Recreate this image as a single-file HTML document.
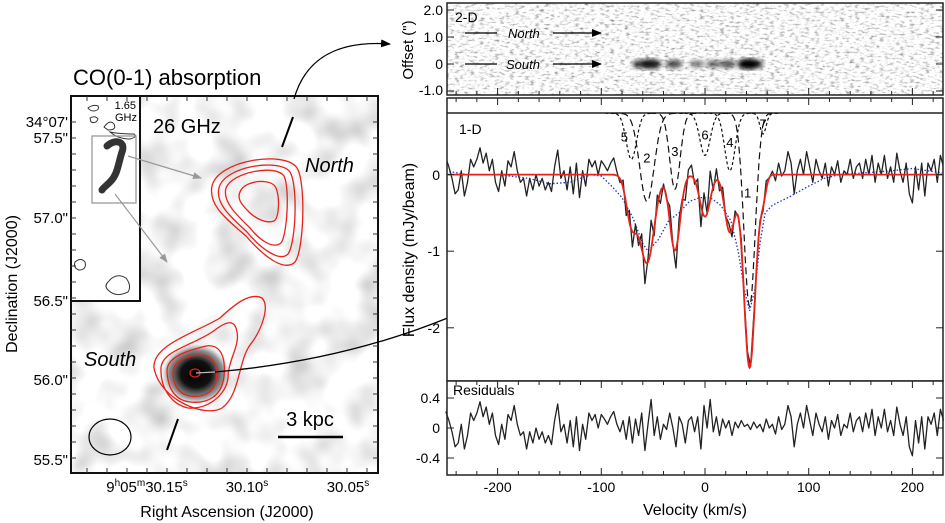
<!DOCTYPE html>
<html><head><meta charset="utf-8"><style>
html,body{margin:0;padding:0;background:#fff;}
svg{display:block;font-family:"Liberation Sans",sans-serif;}
</style></head><body>
<svg id="fig" width="945" height="523" viewBox="0 0 945 523">
<defs>
 <filter id="noise2d" x="0" y="0" width="1" height="1">
  <feTurbulence type="fractalNoise" baseFrequency="0.2 0.5" numOctaves="2" seed="3"/>
  <feColorMatrix type="matrix" values="2.0 0 0 0 -0.02  2.0 0 0 0 -0.02  2.0 0 0 0 -0.02  0 0 0 0 1"/>
 </filter>
 <filter id="noisemap" x="0" y="0" width="1" height="1">
  <feTurbulence type="fractalNoise" baseFrequency="0.028" numOctaves="2" seed="7"/>
  <feColorMatrix type="matrix" values="1.0 0 0 0 0.42  1.0 0 0 0 0.42  1.0 0 0 0 0.42  0 0 0 0 1"/>
 </filter>
 <filter id="blur3"><feGaussianBlur stdDeviation="2.5"/></filter>
 <radialGradient id="core"><stop offset="0" stop-color="#000"/><stop offset="0.45" stop-color="#111"/><stop offset="0.8" stop-color="#666" stop-opacity="0.7"/><stop offset="1" stop-color="#999" stop-opacity="0"/></radialGradient>
 <marker id="ah" markerWidth="10" markerHeight="8" refX="9" refY="4" orient="auto" markerUnits="userSpaceOnUse"><path d="M0,0 L10,4 L0,8 Z" fill="#000"/></marker>
 <marker id="ahg" markerWidth="9" markerHeight="7" refX="8" refY="3.5" orient="auto" markerUnits="userSpaceOnUse"><path d="M0,0 L9,3.5 L0,7 Z" fill="#999"/></marker>
 <clipPath id="clipMap"><rect x="71" y="96" width="307" height="377"/></clipPath>
 <clipPath id="clip2d"><rect x="447" y="3" width="496" height="92"/></clipPath>
 <clipPath id="clip1d"><rect x="447" y="113" width="496" height="268"/></clipPath>
</defs>

<!-- ===== LEFT MAP ===== -->
<g>
 <text x="73" y="85" font-size="22">CO(0-1) absorption</text>
 <g clip-path="url(#clipMap)">
  <rect x="71" y="96" width="307" height="377" fill="#ddd" filter="url(#noisemap)"/>
  <ellipse cx="196" cy="374" rx="34" ry="30" fill="url(#core)"/>
  <g fill="none" stroke="#e8221a" stroke-width="1.3">
   <path d="M212,186 C218,160 285,150 297,168 C306,182 304,250 295,262 C285,272 265,258 246,236 C228,220 208,206 212,186 Z"/>
   <path d="M219,188 C224,166 280,158 290,172 C298,185 296,243 288,254 C280,262 262,250 247,232 C232,218 215,204 219,188 Z"/>
   <path d="M226,188 C232,172 276,164 284,176 C290,188 287,236 281,243 C272,250 258,238 250,228 C238,216 222,202 226,188 Z"/>
   <path d="M241,190 C247,180 272,178 276,188 C280,198 279,218 274,221 C266,224 255,218 249,212 C241,204 236,198 241,190 Z"/>
  </g>
  <g fill="none" stroke="#e8221a" stroke-width="1.3">
   <path d="M154,368 C152,345 195,333 220,318 C235,304 250,292 262,298 C270,306 262,330 250,345 C238,362 240,395 222,408 C205,418 160,400 154,368 Z"/>
   <path d="M161,368 C162,350 195,345 215,330 C228,320 235,320 237,332 C240,346 228,360 228,378 C226,396 206,410 188,408 C170,404 160,386 161,368 Z"/>
   <path d="M167,372 C166,356 190,350 206,346 C220,344 226,356 224,376 C222,396 208,404 190,402 C174,400 168,388 167,372 Z"/>
   <path d="M173,373 C173,360 188,355 202,355 C214,356 218,366 216,380 C214,392 204,398 190,396 C178,394 173,384 173,373 Z"/>
   <ellipse cx="195" cy="373" rx="5" ry="4"/>
  </g>
  <rect x="71" y="96" width="69" height="205" fill="#fff" stroke="#111" stroke-width="2"/>
  <text x="136" y="109" font-size="11" text-anchor="end">1.65</text>
  <text x="137" y="121" font-size="11" text-anchor="end">GHz</text>
  <g fill="none" stroke="#333" stroke-width="1">
   <path d="M88,108 q5,-4 10,-2 q2,4 -4,5 q-4,0 -6,-3z"/><path d="M90,118 q5,-3 8,1 q-2,5 -7,3z"/>
   <path d="M104,127 q6,-8 10,-3 q3,6 -6,6z"/><path d="M110,132 q10,2 24,2 q4,3 -4,5 q-12,0 -20,-7z"/>
   <path d="M75,262 q6,-5 10,0 q2,8 -6,8 q-6,-2 -4,-8z"/><path d="M108,282 q8,-10 18,-4 q6,8 2,14 q-12,6 -20,-2 q-4,-4 0,-8z"/>
  </g>
  <path d="M107,146 C116,138 126,142 122,152 C118,164 118,174 110,182 C106,186 103,188 102,190" fill="none" stroke="#333" stroke-width="7" stroke-linecap="round"/>
  <rect x="92" y="136" width="44" height="67" fill="none" stroke="#999" stroke-width="1.3"/>
  <line x1="128" y1="156" x2="201" y2="178" stroke="#999" stroke-width="1.2" marker-end="url(#ahg)"/>
  <line x1="115" y1="194" x2="167" y2="262" stroke="#999" stroke-width="1.2" marker-end="url(#ahg)"/>
  <text x="153" y="133" font-size="20">26 GHz</text>
  <text x="305" y="172" font-size="20" font-style="italic">North</text>
  <text x="84" y="366" font-size="20" font-style="italic">South</text>
  <line x1="293" y1="117" x2="282" y2="147" stroke="#000" stroke-width="2"/>
  <line x1="178" y1="419" x2="167" y2="450" stroke="#000" stroke-width="2"/>
  <ellipse cx="110" cy="437" rx="21" ry="18" fill="none" stroke="#000" stroke-width="1.2"/>
  <text x="310" y="426" font-size="20" text-anchor="middle">3 kpc</text>
  <line x1="278" y1="437" x2="343" y2="437" stroke="#000" stroke-width="2.5"/>
 </g>
 <rect x="71" y="96" width="307" height="377" fill="none" stroke="#111" stroke-width="2"/>
 <g id="mapTicks" stroke="#333" stroke-width="1"></g>
 <g font-size="15" text-anchor="end">
  <text x="68" y="127">34°07'</text>
  <text x="68" y="143">57.5"</text>
  <text x="68" y="223">57.0"</text>
  <text x="68" y="306">56.5"</text>
  <text x="68" y="385">56.0"</text>
  <text x="68" y="465">55.5"</text>
 </g>
 <g font-size="15" text-anchor="middle">
  <text x="147" y="492">9<tspan font-size="10" dy="-6">h</tspan><tspan dy="6">05</tspan><tspan font-size="10" dy="-6">m</tspan><tspan dy="6">30.15</tspan><tspan font-size="10" dy="-6">s</tspan></text>
  <text x="247" y="492">30.10<tspan font-size="10" dy="-6">s</tspan></text>
  <text x="348" y="492">30.05<tspan font-size="10" dy="-6">s</tspan></text>
 </g>
 <text x="227" y="517" font-size="16" text-anchor="middle">Right Ascension (J2000)</text>
 <text transform="translate(17,284) rotate(-90)" font-size="16" text-anchor="middle">Declination (J2000)</text>
</g>

<path d="M294,99 C305,60 335,40 390,44" fill="none" stroke="#000" stroke-width="1.3" marker-end="url(#ah)"/>
<line x1="196" y1="373" x2="215" y2="372" stroke="#bbb" stroke-width="1.3"/>
<path d="M215,372 C330,362 470,330 609,227" fill="none" stroke="#000" stroke-width="1.3" marker-end="url(#ah)"/>

<!-- ===== RIGHT PANELS ===== -->
<g>
 <g clip-path="url(#clip2d)">
  <rect x="447" y="3" width="496" height="92" fill="#eee" filter="url(#noise2d)"/>
  <g id="blobs" filter="url(#blur3)"></g>
 </g>
 <rect x="447" y="3" width="496" height="92" fill="none" stroke="#222" stroke-width="1.5"/>
 <text x="455" y="22" font-size="14">2-D</text>
 <line x1="465" y1="33" x2="497" y2="33" stroke="#000" stroke-width="1.3"/>
 <text x="508" y="38" font-size="13" font-style="italic">North</text>
 <line x1="553" y1="33" x2="601" y2="33" stroke="#000" stroke-width="1.3" marker-end="url(#ah)"/>
 <line x1="465" y1="64" x2="497" y2="64" stroke="#000" stroke-width="1.3"/>
 <text x="506" y="69" font-size="13" font-style="italic">South</text>
 <line x1="553" y1="64" x2="601" y2="64" stroke="#000" stroke-width="1.3" marker-end="url(#ah)"/>
 <g font-size="14" text-anchor="end">
  <text x="443" y="15">2.0</text><text x="443" y="42">1.0</text><text x="443" y="69">0</text><text x="443" y="95">-1.0</text>
 </g>
 <text transform="translate(413,50) rotate(-90)" font-size="15" text-anchor="middle">Offset (")</text>
</g>

<g>
 <rect x="447" y="98" width="496" height="283" fill="#fff" stroke="#222" stroke-width="1.5"/>
 <line x1="447" y1="113" x2="943" y2="113" stroke="#222" stroke-width="1.5"/>
 <g clip-path="url(#clip1d)">
  <g id="comps"></g>
  <path id="blueLine" fill="none" stroke="#2233cc" stroke-width="1.3" stroke-dasharray="1.5,2"/>
  <path id="dataLine" fill="none" stroke="#222" stroke-width="1.3" stroke-linejoin="round"/>
  <path id="modelLine" fill="none" stroke="#e8221a" stroke-width="1.8"/>
 </g>
 <g id="compLabels" font-size="13" text-anchor="middle"></g>
 <text x="459" y="134" font-size="14">1-D</text>
 <g font-size="14" text-anchor="end">
  <text x="440" y="180">0</text><text x="440" y="256">-1</text><text x="440" y="333">-2</text>
 </g>
 <text transform="translate(414,250) rotate(-90)" font-size="16" text-anchor="middle">Flux density (mJy/beam)</text>
</g>

<g>
 <rect x="447" y="381" width="496" height="94" fill="#fff" stroke="#222" stroke-width="1.5"/>
 <path id="resLine" fill="none" stroke="#222" stroke-width="1.3" stroke-linejoin="round"/>
 <text x="453" y="395" font-size="14">Residuals</text>
 <g font-size="14" text-anchor="end">
  <text x="440" y="403">0.4</text><text x="440" y="433">0</text><text x="440" y="463">-0.4</text>
 </g>
 <g id="xLabels" font-size="14" text-anchor="middle"></g>
 <text x="695" y="515" font-size="16" text-anchor="middle">Velocity (km/s)</text>
</g>
<g id="rTicks" stroke="#222" stroke-width="1"></g>
</svg>
<script>
// ---- data ----
const resStart = -250, resStep = 3;
const residuals = [
0.22,0.1,-0.05,-0.25,-0.2,0.05,-0.28,-0.1,0.2,0.1,
0.2,0.35,0.15,0.28,0.05,0.2,-0.1,-0.22,0.05,-0.15,
0.18,0.1,0.3,0.05,-0.1,-0.05,-0.28,-0.05,-0.2,0.0,
-0.15,-0.05,-0.2,-0.1,-0.22,0.1,0.32,-0.05,0.05,-0.2,
0.1,-0.25,0.15,-0.3,0.05,-0.15,0.2,0.1,0.18,0.0,
0.18,0.12,0.05,0.15,0.22,0.05,-0.05,0.1,-0.15,0.15,
-0.2,0.12,-0.1,0.2,-0.3,0.05,0.38,-0.1,0.15,-0.15,
0.05,-0.02,0.2,0.0,-0.25,0.15,0.05,-0.2,0.1,0.15,
-0.05,0.15,-0.28,0.3,0.0,0.38,-0.05,0.15,-0.1,0.12,
0.0,0.1,-0.1,0.08,0.0,0.1,0.02,0.05,-0.02,0.08,
0.0,0.05,-0.05,0.12,0.0,0.05,-0.08,0.15,-0.02,0.05,
0.3,0.15,-0.25,0.05,0.2,0.0,0.3,0.1,-0.1,0.2,
0.05,-0.05,0.15,-0.15,0.1,0.0,0.18,-0.1,0.05,0.0,
0.2,-0.05,0.1,0.15,-0.05,0.2,0.0,0.25,-0.1,0.15,
0.0,0.25,-0.05,0.1,-0.1,0.28,0.05,-0.1,0.15,-0.25,
-0.37,0.1,-0.2,0.15,-0.28,0.15,0.05,0.2,-0.1,0.25,
0.1];
const compNames = ["1","2","3","4","5","6","7"];
const compCenters = [43, -56, -29, 24, -71, 0, 56];
const compDepths = [2.52, 1.15, 0.99, 0.75, 0.6, 0.55, 0.27];
const compSigmas = [5.5, 7, 5, 5, 5, 5, 3];
const compLongDash = [true, true, true, false, false, false, false];
const blueV = [-250,-230,-200,-170,-150,-130,-110,-100,-90,-80,-70,-60,-55,-45,-35,-25,-15,-5,5,15,25,32,38,43,48,53,58,65,80,100,115,130,150,180,200,230];
const blueF = [0.05,0,0,-0.05,-0.12,-0.1,0,-0.02,-0.15,-0.3,-0.55,-0.9,-1.0,-0.85,-0.6,-0.5,-0.35,-0.3,-0.3,-0.4,-0.6,-1.0,-1.5,-1.78,-1.5,-0.9,-0.5,-0.4,-0.3,-0.15,-0.05,0,0.02,0.05,0.08,0.02];
const blobV = [-62, -52, -30, -8, 8, 22, 42, 48];
const blobStrength = [0.6, 0.85, 0.55, 0.35, 0.4, 0.5, 1.0, 0.6];
const xTickLabels = [-200, -100, 0, 100, 200];

// ---- axes ----
const xV = v => 705 + 1.037 * v;
const yF = f => 174.6 - 76.6 * f;
const yR = r => 428 - 75 * r;
const yO = o => 64 - 27 * o;
const compBase = 0.8;

const NS = "http://www.w3.org/2000/svg";
function mk(tag, parent){ const e = document.createElementNS(NS, tag); parent.appendChild(e); return e; }

function model(v){
  let s = 0;
  for (let i = 0; i < compCenters.length; i++) s -= compDepths[i] * Math.exp(-0.5 * ((v - compCenters[i]) / compSigmas[i]) ** 2);
  return s;
}

let dD = "", dR = "";
residuals.forEach((r, i) => {
  const v = resStart + i * resStep;
  const x = xV(v);
  dD += (i ? "L" : "M") + x.toFixed(1) + "," + yF(model(v) + r).toFixed(1);
  dR += (i ? "L" : "M") + x.toFixed(1) + "," + yR(r).toFixed(1);
});
document.getElementById("dataLine").setAttribute("d", dD);
document.getElementById("resLine").setAttribute("d", dR);

let dM = "";
for (let v = -255; v <= 235; v += 0.5) dM += (v === -255 ? "M" : "L") + xV(v).toFixed(1) + "," + yF(model(v)).toFixed(1);
document.getElementById("modelLine").setAttribute("d", dM);

document.getElementById("blueLine").setAttribute("d", blueV.map((v, i) => (i ? "L" : "M") + xV(v).toFixed(1) + "," + yF(blueF[i]).toFixed(1)).join(""));

const cg = document.getElementById("comps"), cl = document.getElementById("compLabels");
compCenters.forEach((c, i) => {
  let d = "";
  for (let v = c - 5 * compSigmas[i]; v <= c + 5 * compSigmas[i]; v += 0.5)
    d += (d ? "L" : "M") + xV(v).toFixed(1) + "," + yF(compBase - compDepths[i] * Math.exp(-0.5 * ((v - c) / compSigmas[i]) ** 2)).toFixed(1);
  const p = mk("path", cg);
  p.setAttribute("d", d);
  p.setAttribute("fill", "none");
  p.setAttribute("stroke", "#111");
  p.setAttribute("stroke-width", "1.2");
  p.setAttribute("stroke-dasharray", compLongDash[i] ? "7,4" : "3,2.5");
  
  
  const t = mk("text", cl);
  t.textContent = compNames[i];
  const big = compDepths[i] > 1.5;
  const ly = big ? yF(-0.3) : yF(compBase - compDepths[i] * 0.5) + 5;
  const lx = xV(c) + (compNames[i] === "5" ? -7 : 0) + (big ? -2 : 0);
  t.setAttribute("x", lx.toFixed(1));
  t.setAttribute("y", ly.toFixed(1));
  
  
});

const bg = document.getElementById("blobs");
blobV.forEach((v, i) => {
  const e = mk("ellipse", bg);
  e.setAttribute("cx", xV(v).toFixed(1));
  e.setAttribute("cy", yO(0));
  e.setAttribute("rx", (5 + 6 * blobStrength[i]).toFixed(1));
  e.setAttribute("ry", (2.5 + 3 * blobStrength[i]).toFixed(1));
  e.setAttribute("fill", "#000");
  e.setAttribute("fill-opacity", (0.3 + 0.7 * blobStrength[i]).toFixed(2));
  
  
});

const rt = document.getElementById("rTicks");
for (let v = -240; v <= 220; v += 20) {
  const major = v % 100 === 0, len = major ? 7 : 4, x = xV(v);
  [[475, -1], [381, 1], [98, 1], [95, -1]].forEach(([y0, s]) => {
    const l = mk("line", rt);
    l.setAttribute("x1", x); l.setAttribute("x2", x);
    l.setAttribute("y1", y0); l.setAttribute("y2", y0 + s * len);
  });
}
const xl = document.getElementById("xLabels");
xTickLabels.forEach(v => {
  const t = mk("text", xl);
  t.textContent = v;
  t.setAttribute("x", xV(v).toFixed(1));
  t.setAttribute("y", 492);
  
  
});
[yF(0), yF(-1), yF(-2), yR(0.4), yR(0), yR(-0.4), yO(2), yO(1), yO(0), yO(-1)].forEach(y => {
  [[447, 7], [943, -7]].forEach(([x0, s]) => {
    const l = mk("line", rt);
    l.setAttribute("x1", x0); l.setAttribute("x2", x0 + s);
    l.setAttribute("y1", y); l.setAttribute("y2", y);
  });
});
const mt = document.getElementById("mapTicks");
for (let y = 122; y < 473; y += 16) {
  [[71, 5], [378, -5]].forEach(([x0, s]) => { const l = mk("line", mt); l.setAttribute("x1", x0); l.setAttribute("x2", x0 + s); l.setAttribute("y1", y); l.setAttribute("y2", y); });
}
for (let x = 87; x < 378; x += 20) {
  [[473, -5], [96, 5]].forEach(([y0, s]) => { const l = mk("line", mt); l.setAttribute("x1", x); l.setAttribute("x2", x); l.setAttribute("y1", y0); l.setAttribute("y2", y0 + s); });
}
</script>
</body></html>
